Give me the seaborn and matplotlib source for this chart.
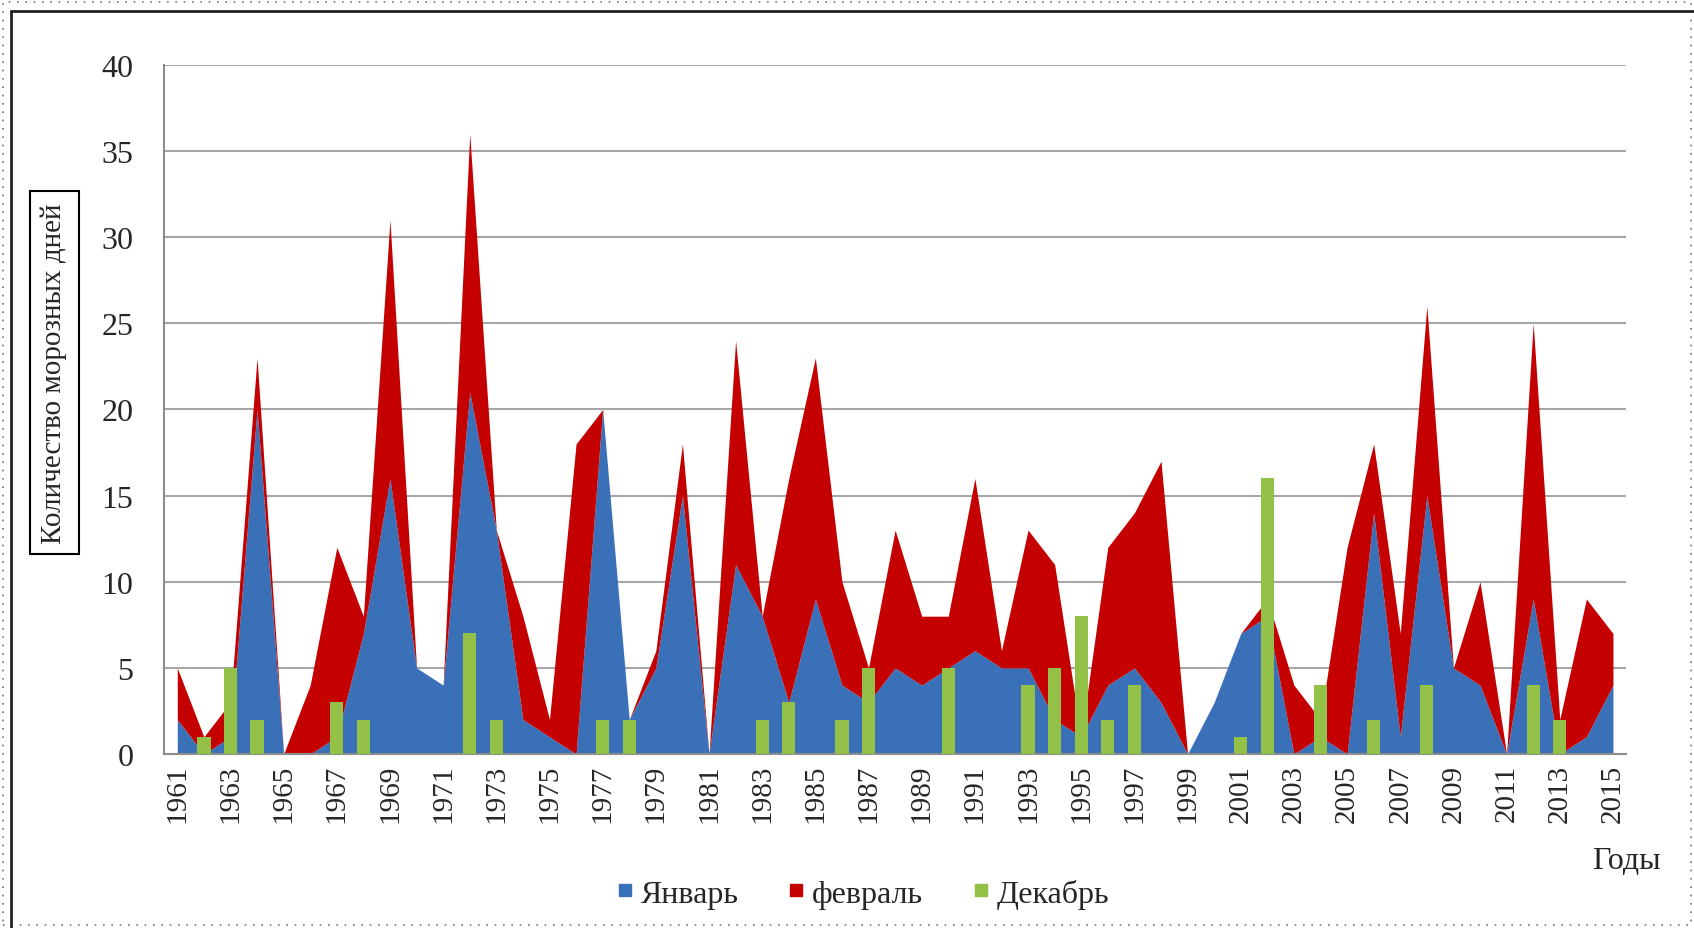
import numpy as np
import pandas as pd
import matplotlib
matplotlib.use("Agg")
import matplotlib.pyplot as plt
from matplotlib.lines import Line2D
from matplotlib.patches import Rectangle
import seaborn as sns

years = list(range(1961, 2016))

# январь (нижний слой)
jan = [2, 0, 1, 20, 0, 0, 1, 7, 16, 5,
       4, 21, 13, 2, 1, 0, 20, 2, 5, 15,
       0, 11, 8, 3, 9, 4, 3, 5, 4, 5,
       6, 5, 5, 2, 1, 4, 5, 3, 0, 3,
       7, 8, 0, 1, 0, 14, 1, 15, 5, 4,
       0, 9, 0, 1, 4]

# февраль (накоплено поверх января)
feb = [3, 1, 2, 3, 0, 4, 11, 1, 15, 0,
       0, 15, 0, 6, 1, 18, 0, 0, 1, 3,
       0, 13, 0, 13, 14, 6, 2, 8, 4, 3,
       10, 1, 8, 9, 0, 8, 9, 14, 0, 0,
       0, 1, 4, 1, 12, 4, 6, 11, 0, 6,
       0, 16, 2, 8, 3]

# декабрь (столбцы)
dec = [0, 1, 5, 2, 0, 0, 3, 2, 0, 0,
       0, 7, 2, 0, 0, 0, 2, 2, 0, 0,
       0, 0, 2, 3, 0, 2, 5, 0, 0, 5,
       0, 0, 4, 5, 8, 2, 4, 0, 0, 0,
       1, 16, 0, 4, 0, 2, 0, 4, 0, 0,
       0, 4, 2, 0, 0]

df = pd.DataFrame({"year": [str(y) for y in years], "jan": jan, "feb": feb, "dec": dec})

c_jan = "#3a70b8"
c_feb = "#c40000"
c_dec = "#93c047"

sns.set_style("white")
plt.rcParams["font.family"] = ["Liberation Serif", "DejaVu Serif"]

fig = plt.figure(figsize=(16.94, 9.29), dpi=100)
ax = fig.add_axes([0.0968, 0.1873, 0.8632, 0.7417])

x = np.arange(len(years))
ax.stackplot(x, df["jan"], df["feb"], colors=[c_jan, c_feb], linewidth=0, zorder=2)
sns.barplot(data=df, x="year", y="dec", color=c_dec, width=0.5,
            saturation=1, linewidth=0, edgecolor="none", ax=ax, zorder=3)

ax.set_xlim(-0.5, len(years) - 0.5)
ax.set_ylim(0, 40)
ax.set_yticks(range(0, 41, 5))
ax.yaxis.grid(True, color="#a6a6a6", linewidth=1.5)
ax.set_axisbelow(True)

ax.set_xticks(x[::2])
ax.set_xticklabels([str(y) for y in years[::2]], rotation=90)
ax.tick_params(axis="x", length=0, pad=7, labelsize=21)
ax.tick_params(axis="y", length=0, pad=22, labelsize=23)

for s in ["top", "right"]:
    ax.spines[s].set_visible(False)
ax.spines["left"].set_color("#8c8c8c")
ax.spines["bottom"].set_color("#8c8c8c")
ax.spines["left"].set_linewidth(1.5)
ax.spines["bottom"].set_linewidth(1.5)

ax.set_xlabel("")
ax.set_ylabel("")

fig.text(0.032, 0.598, "Количество морозных дней", rotation=90, ha="center", va="center",
         fontsize=21, bbox=dict(facecolor="white", edgecolor="black", linewidth=1.5, pad=8))
fig.text(0.96, 0.073, "Годы", ha="center", va="center", fontsize=23)

handles = [Line2D([], [], marker="s", linestyle="none", markersize=8.5, color=c) for c in (c_jan, c_feb, c_dec)]
fig.legend(handles, ["Январь", "февраль", "Декабрь"], loc="center", bbox_to_anchor=(0.509, 0.037),
           ncol=3, frameon=False, fontsize=23, handlelength=0.6, handletextpad=0.2, columnspacing=1.5)

# рамка
fig.patches.append(Rectangle((0.002, 0.003), 0.996, 0.994, transform=fig.transFigure,
                             fill=False, edgecolor="#777777", linestyle=(0, (1, 4)), linewidth=1.2))
fig.add_artist(Line2D([0.0065, 0.0065], [0.0, 0.987], transform=fig.transFigure, color="#222222", linewidth=2))
fig.add_artist(Line2D([0.0065, 1.0], [0.987, 0.987], transform=fig.transFigure, color="#222222", linewidth=2))

fig.savefig("out.png", dpi=100)
